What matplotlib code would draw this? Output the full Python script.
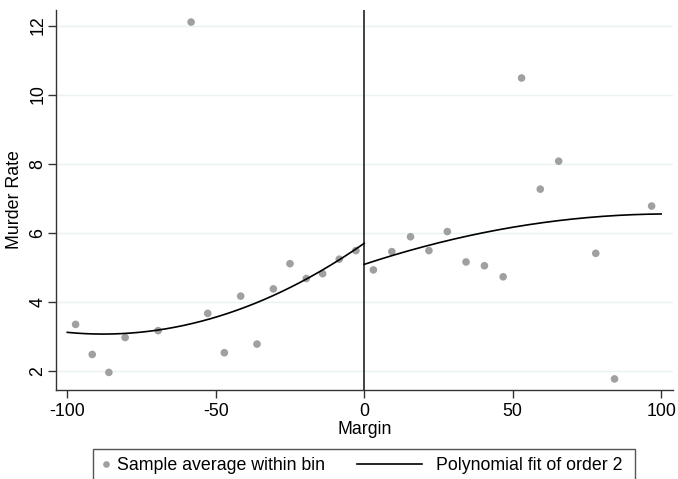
import matplotlib
matplotlib.use("Agg")
import matplotlib.pyplot as plt
import numpy as np
from matplotlib.lines import Line2D
from matplotlib.patches import Rectangle
from matplotlib.legend_handler import HandlerBase

plt.rcParams['font.family'] = ['Liberation Sans', 'DejaVu Sans']

# Bin averages (left of cutoff)
left_x = [-97.2, -91.6, -86.0, -80.5, -69.4, -58.3, -52.7, -47.1, -41.6, -36.1,
          -30.6, -25.0, -19.5, -14.0, -8.4, -2.8]
left_y = [3.34, 2.47, 1.95, 2.96, 3.16, 12.10, 3.66, 2.52, 4.16, 2.77,
          4.37, 5.10, 4.67, 4.81, 5.23, 5.48]
# Bin averages (right of cutoff)
right_x = [3.1, 9.3, 15.6, 21.8, 28.0, 34.3, 40.5, 46.8, 53.0, 59.3, 65.5,
           78.0, 84.3, 96.8]
right_y = [4.92, 5.45, 5.88, 5.48, 6.03, 5.15, 5.04, 4.72, 10.48, 7.26, 8.07,
           5.40, 1.76, 6.77]
# Quadratic fit coefficients (c2, c1, c0)
fit_left_coef = [0.00034, 0.0598, 5.69]
fit_right_coef = [-0.000138, 0.0284, 5.08]

x_ticks = [-100, -50, 0, 50, 100]
y_ticks = [2, 4, 6, 8, 10, 12]
legend_labels = ['Sample average within bin', 'Polynomial fit of order 2']

FS = 12.8
W, H = 678, 479

fig = plt.figure(figsize=(W/100, H/100), dpi=100)
ax = fig.add_axes([56/W, 1-390/H, 616.7/W, 380/H])

grid_c = '#eaf2f3'
for yv in y_ticks:
    ax.axhline(yv, color=grid_c, lw=1.0, zorder=0)

dot_c = '#a0a0a0'
ax.scatter(left_x + right_x, left_y + right_y, s=30, color=dot_c,
           edgecolors='none', zorder=3)

xl = np.linspace(-100, 0, 200)
xr = np.linspace(0, 100, 200)
ax.plot(xl, np.polyval(fit_left_coef, xl), color='black', lw=1.2, zorder=4)
ax.plot(xr, np.polyval(fit_right_coef, xr), color='black', lw=1.2, zorder=4)

ax.axvline(0, color='#222222', lw=1.2, zorder=2)

ax.set_xlim(-103.8, 103.9)
ax.set_ylim(1.44, 12.45)
ax.set_xticks(x_ticks)
ax.set_xticklabels([str(v) for v in x_ticks])
ax.set_yticks(y_ticks)
ax.set_yticklabels([str(v) for v in y_ticks], rotation=90, va='center')

for s in ['top', 'right']:
    ax.spines[s].set_visible(False)
for s in ['left', 'bottom']:
    ax.spines[s].set_color('#333333')
    ax.spines[s].set_linewidth(1.0)
ax.tick_params(axis='both', direction='out', length=5.8, width=1.0,
               color='#333333', labelsize=FS, labelcolor='black')
ax.tick_params(axis='x', pad=3.5)
ax.tick_params(axis='y', pad=1)

ax.set_xlabel('Margin', fontsize=FS)
ax.set_ylabel('Murder Rate', fontsize=FS)
ax.xaxis.set_label_coords(0.5, -(421.5-390)/380)
ax.yaxis.set_label_coords((23-56)/616.7, 0.5)


class LongLeftLine(HandlerBase):
    def create_artists(self, legend, orig_handle, xdescent, ydescent,
                       width, height, fontsize, trans):
        y = height/2 - ydescent
        ln = Line2D([-xdescent - 45.3, -xdescent + 1.5], [y, y],
                    color='black', lw=1.2, transform=trans)
        return [ln]


row_y = 1 - 466/H
leg1 = fig.legend([Line2D([], [], marker='o', linestyle='none', color=dot_c,
                          markersize=4.8, markeredgewidth=0)],
                  [legend_labels[0]], loc='center left',
                  bbox_to_anchor=(101.25/W, row_y), fontsize=FS,
                  frameon=False, handlelength=0.5, handletextpad=0.4,
                  borderpad=0, borderaxespad=0)
leg2 = fig.legend([Line2D([], [], color='black')], [legend_labels[1]],
                  loc='center left', bbox_to_anchor=(419.65/W, row_y),
                  fontsize=FS, frameon=False, handlelength=0.5,
                  handletextpad=0.4, borderpad=0, borderaxespad=0,
                  handler_map={Line2D: LongLeftLine()})

frame = Rectangle((93.3/W, -0.05), (635-93.3)/W, (1-449/H) + 0.05,
                  transform=fig.transFigure, fill=False, edgecolor='#555555',
                  lw=1.0)
fig.patches.append(frame)

fig.savefig('out.png', dpi=100)
